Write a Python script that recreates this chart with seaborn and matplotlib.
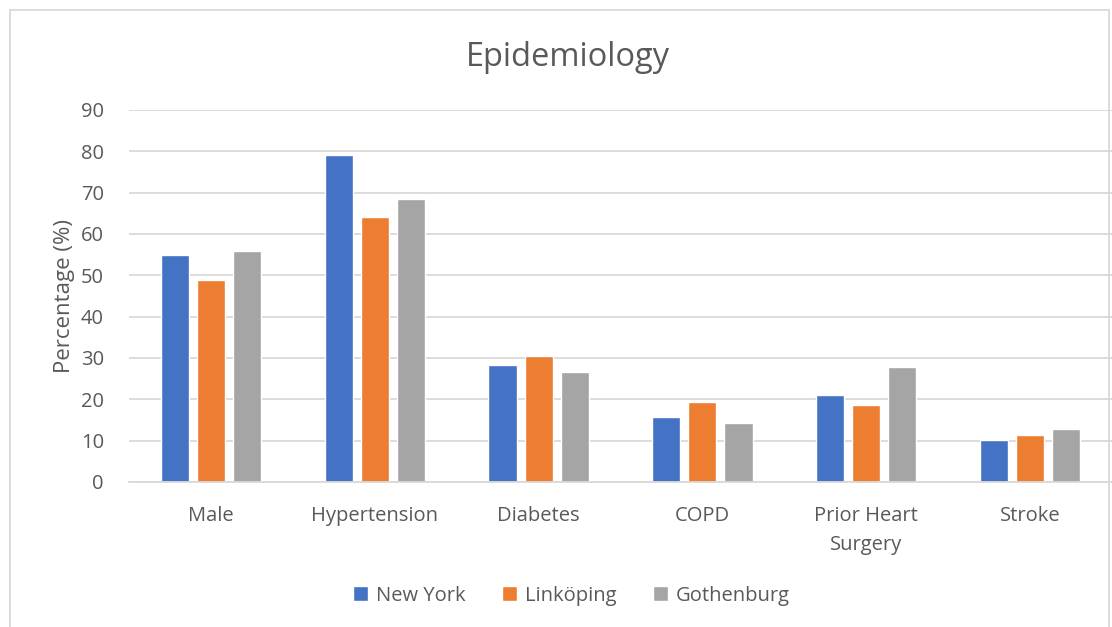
import matplotlib
matplotlib.use("Agg")
import matplotlib.pyplot as plt
import seaborn as sns
import pandas as pd
from matplotlib.patches import Rectangle

# Data
categories = ["Male", "Hypertension", "Diabetes", "COPD", "Prior Heart\nSurgery", "Stroke"]
new_york = [55.0, 79.0, 28.2, 15.6, 21.0, 10.2]
linkoping = [48.8, 64.2, 30.5, 19.4, 18.6, 11.4]
gothenburg = [55.9, 68.5, 26.5, 14.2, 27.7, 12.8]
series_names = ["New York", "Linköping", "Gothenburg"]
colors = ["#4472C4", "#ED7D31", "#A5A5A5"]

# Long format for seaborn
df = pd.DataFrame({
    "Category": categories * 3,
    "Value": new_york + linkoping + gothenburg,
    "City": [s for s in series_names for _ in categories],
})

sns.set_style("white")
plt.rcParams['font.family'] = ['Open Sans', 'DejaVu Sans']
text_color = "#595959"

fig = plt.figure(figsize=(11.12, 6.27), dpi=100)
ax = fig.add_axes([0.116, 0.2313, 0.884, 0.5933])

sns.barplot(data=df, x="Category", y="Value", hue="City", palette=colors,
            width=0.66, gap=0.22, ax=ax, saturation=1)

ax.set_ylim(0, 90)
ax.set_yticks(range(0, 91, 10))
ax.yaxis.grid(True, color="#D9D9D9", linewidth=1.3)
ax.set_axisbelow(True)
for s in ["top", "right", "left"]:
    ax.spines[s].set_visible(False)
ax.spines["bottom"].set_color("#D9D9D9")
ax.spines["bottom"].set_linewidth(1.3)
ax.tick_params(axis="both", length=0, labelsize=14.5, labelcolor=text_color)
ax.tick_params(axis="y", pad=18)
ax.tick_params(axis="x", pad=17)
for lbl in ax.get_xticklabels():
    lbl.set_linespacing(1.6)
ax.set_xlabel("")
ax.set_ylabel("Percentage (%)", fontsize=16, color=text_color, labelpad=4)

fig.suptitle("Epidemiology", x=0.511, y=0.935, fontsize=23.5, color=text_color)

ax.legend_.remove()
handles, labels = ax.get_legend_handles_labels()
fig.legend(handles, labels, loc="center", bbox_to_anchor=(0.514, 0.05), ncol=3,
           frameon=False, fontsize=14.5, labelcolor=text_color, handlelength=0.75,
           handleheight=0.75, handletextpad=0.4, columnspacing=1.8)

# Outer chart border
fig.patches.append(Rectangle((10 / 1112, -0.01), 1099 / 1112, 1 - 10 / 627 + 0.01,
                             transform=fig.transFigure, fill=False,
                             edgecolor="#D9D9D9", linewidth=1.3))

fig.savefig("out.png", dpi=100)
